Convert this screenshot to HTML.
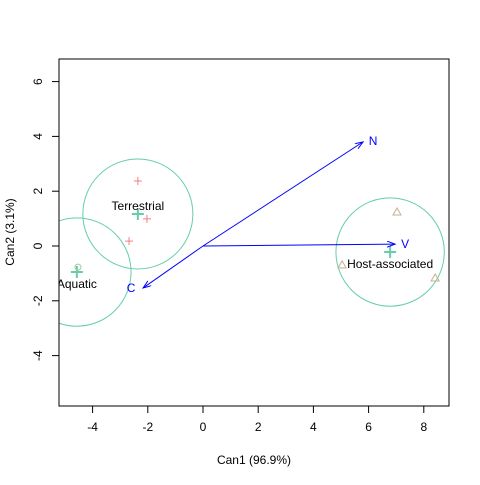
<!DOCTYPE html>
<html><head><meta charset="utf-8"><style>body{margin:0;background:#fff}svg{font-family:"Liberation Sans",sans-serif}</style></head>
<body>
<svg id="chart" width="480" height="480" xmlns="http://www.w3.org/2000/svg"></svg>
<script>
const xTicks=[-4,-2,0,2,4,6,8];
const yTicks=[-4,-2,0,2,4,6];
const groupNames=["Terrestrial","Aquatic","Host-associated"];
const groupCx=[-2.36,-4.57,6.78];
const groupCy=[1.17,-0.95,-0.22];
const groupR=[2.0,1.97,1.97];
const terrX=[-2.36,-2.03,-2.68];
const terrY=[2.37,0.99,0.18];
const aquaX=[-4.53];
const aquaY=[-0.77];
const hostX=[7.03,5.04,8.41];
const hostY=[1.24,-0.69,-1.17];
const vecNames=["N","V","C"];
const vecX=[5.8,6.96,-2.17];
const vecY=[3.8,0.07,-1.53];

const NS="http://www.w3.org/2000/svg";
const svg=document.getElementById('chart');
const sx=v=>203+27.6*v, sy=v=>246-27.4*v;
function mk(t,a,p){const e=document.createElementNS(NS,t);for(const k in a)e.setAttribute(k,a[k]);(p||svg).appendChild(e);return e;}
const col="#66cdaa";
mk('defs',{}).innerHTML='<clipPath id="cp"><rect x="59" y="59" width="390" height="347"/></clipPath><marker id="ah" markerWidth="10" markerHeight="8" refX="8" refY="3" orient="auto" markerUnits="userSpaceOnUse"><path d="M0,0 L8,3 L0,6" fill="none" stroke="#0000ff" stroke-width="1"/></marker>';
const plot=mk('g',{'clip-path':'url(#cp)'});


for(let i=0;i<groupNames.length;i++){
 const c=mk('circle',{cx:sx(groupCx[i]),cy:sy(groupCy[i]),r:groupR[i]*27.5,fill:'none',stroke:col,'stroke-width':1},plot);
 
 
 const x=sx(groupCx[i]),y=sy(groupCy[i]);
 const p=mk('path',{d:`M${x-6},${y}H${x+6}M${x},${y-6}V${y+6}`,stroke:col,'stroke-width':2},plot);
 
 
}
for(let i=0;i<terrX.length;i++){const x=sx(terrX[i]),y=sy(terrY[i]);
 const p=mk('path',{d:`M${x-4},${y}H${x+4}M${x},${y-4}V${y+4}`,stroke:'#f08080','stroke-width':1},plot);
 
 }
for(let i=0;i<aquaX.length;i++){
 const p=mk('circle',{cx:sx(aquaX[i]),cy:sy(aquaY[i]),r:3,fill:'none',stroke:'#9acd9a'},plot);
 
 }
for(let i=0;i<hostX.length;i++){const x=sx(hostX[i]),y=sy(hostY[i]);
 const p=mk('path',{d:`M${x-4},${y+3}L${x+4},${y+3}L${x},${y-4}Z`,fill:'none',stroke:'#c8ae94'},plot);
 
 }
const lblOff=[[0,-8],[0,12],[0,12]];
for(let i=0;i<groupNames.length;i++){
 const t=mk('text',{x:sx(groupCx[i])+lblOff[i][0],y:sy(groupCy[i])+lblOff[i][1]+4,'text-anchor':'middle','font-size':12,fill:'#000'},plot);
 t.textContent=groupNames[i];
 
 }
const vOff=[[10,-1],[10,0],[-12,0]];
for(let i=0;i<vecNames.length;i++){
 const l=mk('line',{x1:sx(0),y1:sy(0),x2:sx(vecX[i]),y2:sy(vecY[i]),stroke:'#0000ff','stroke-width':1,'marker-end':'url(#ah)'},plot);
 
 
 const t=mk('text',{x:sx(vecX[i])+vOff[i][0],y:sy(vecY[i])+vOff[i][1]+4,'text-anchor':'middle','font-size':12,fill:'#0000ff'},plot);
 t.textContent=vecNames[i];
 
 }
const fr=mk('rect',{x:59,y:59,width:390,height:347,fill:'none',stroke:'#000'});


for(const v of xTicks){const x=sx(v);
 mk('line',{x1:x,x2:x,y1:406,y2:413,stroke:'#000'});
 const t=mk('text',{x:x,y:431,'text-anchor':'middle','font-size':12});t.textContent=v;
 
 }
for(const v of yTicks){const y=sy(v);
 mk('line',{x1:52,x2:59,y1:y,y2:y,stroke:'#000'});
 const t=mk('text',{x:42,y:y,'text-anchor':'middle','font-size':12,transform:`rotate(-90 42 ${y})`});t.textContent=v;
 
 }
const xt=mk('text',{x:254,y:464,'text-anchor':'middle','font-size':12});xt.textContent='Can1 (96.9%)';


const yt=mk('text',{x:14,y:232,'text-anchor':'middle','font-size':12,transform:'rotate(-90 14 232)'});yt.textContent='Can2 (3.1%)';


</script>
</body></html>
